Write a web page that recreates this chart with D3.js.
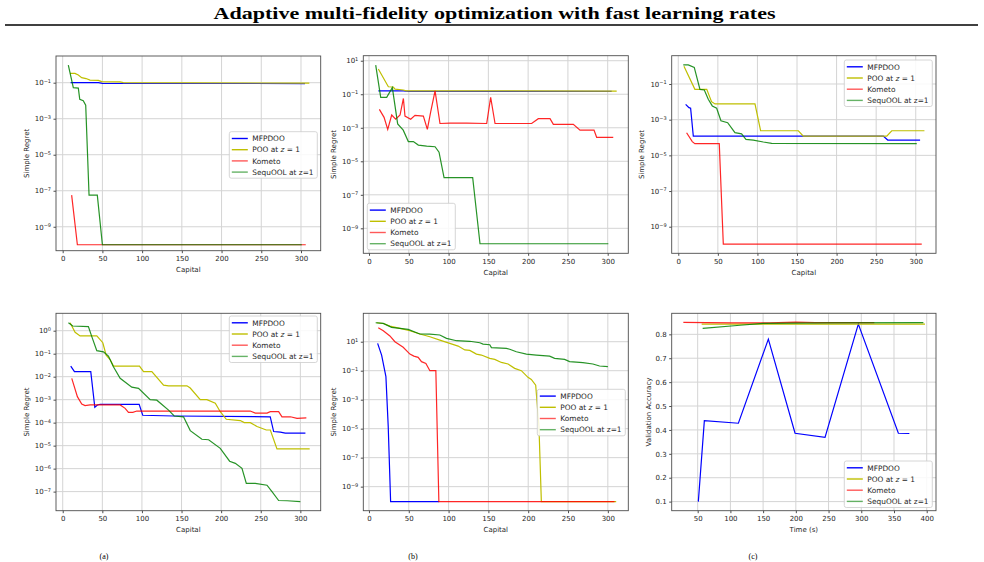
<!DOCTYPE html>
<html>
<head>
<meta charset="utf-8">
<script src="https://cdn.jsdelivr.net/npm/d3@7"></script>
<style>
  body { margin: 0; background: #fff; }
  svg text { font-family: "DejaVu Sans", sans-serif; fill: #262626; }
</style>
</head>
<body>
<svg id="fig" width="984" height="562"></svg>
<script>
    // legend names, same order in every panel
    var methods = ["MFPDOO", "POO", "Kometo", "SequOOL"];

    // (a) simple regret vs capital
    var aMfpdoo = [[10,0.1],[45,0.1],[50,0.092],[305,0.09]];
    var aPoo = [[9.2,0.33],[15.5,0.33],[19.7,0.27],[23.9,0.19],[29.4,0.17],[34.4,0.14],[44.9,0.135],[49.1,0.115],[72.2,0.11],[76.4,0.1],[310.5,0.095]];
    var aKometo = [[11.3,5.7e-8],[18.5,1e-10],[306,1e-10]];
    var aSequool = [[7.1,0.95],[13.4,0.053],[19.7,0.05],[21.5,0.012],[25.9,0.01],[29,0.0057],[33.2,5.7e-8],[43.6,5.7e-8],[50,1e-10],[301,1e-10]];

    // (b)
    var bMfpdoo = [[11.7,0.16],[43,0.16],[50,0.15],[305,0.15]];
    var bPoo = [[11.7,3.2],[24.3,0.28],[30.5,0.27],[32.7,0.2],[43,0.18],[47,0.16],[311.3,0.155]];
    var bKometo = [[13,0.0126],[18.9,0.0042],[23.5,0.0008],[28.5,0.0058],[33.5,0.0033],[39,0.0058],[43.2,0.056],[45.2,0.005],[52.4,0.0032],[57.8,0.0055],[68.3,0.005],[73.3,0.0008],[77.5,0.009],[83,0.16],[89.2,0.0018],[101.8,0.0019],[122.7,0.0019],[147.9,0.0018],[152.9,0.065],[158.4,0.0018],[204.4,0.0018],[212.8,0.0035],[227.5,0.0035],[231.7,0.0016],[256.8,0.0016],[265.2,0.00072],[282.8,0.00072],[286.1,0.00027],[307,0.00027]];
    var bSequool = [[8.4,5.5],[14.7,0.065],[22.2,0.065],[29.3,0.25],[36,0.0017],[43,0.00072],[49.4,0.00015],[55.7,0.00015],[62,9.3e-5],[72.5,8.1e-5],[83,7.4e-5],[88,3.5e-5],[94.3,1.05e-6],[130.3,1.05e-6],[139.5,1.2e-10],[300.8,1.2e-10]];

    // (c)
    var cMfpdoo = [[9.3,0.0072],[13.5,0.0047],[15.6,0.0044],[19,0.00012],[259,0.00012],[264.6,7.2e-5],[305.5,7.2e-5]];
    var cPoo = [[7.2,1.0],[21,0.05],[36,0.05],[42,0.0102],[46.4,0.0076],[96.9,0.0076],[104,0.00024],[151.7,0.00024],[158,0.00012],[263.4,0.00012],[269.7,0.00024],[311,0.00024]];
    var cKometo = [[10.5,1.86e-4],[17.7,5.9e-5],[21,4.5e-5],[51.8,4.5e-5],[56.9,1.07e-10],[307.6,1.07e-10]];
    var cSequool = [[6.3,1.17],[12.6,1.17],[20.2,0.86],[27.4,0.05],[32.9,0.046],[37.9,0.0138],[43,0.0059],[48.5,0.0044],[53.9,0.00087],[62.4,0.00068],[71.6,0.000186],[80,0.00016],[85.5,7.9e-5],[94.8,7.2e-5],[107.5,5.6e-5],[118,4.7e-5],[301.3,4.5e-5]];

    // (d)
    var dMfpdoo = [[10.1,0.029],[14.8,0.0165],[35.4,0.0165],[40.5,0.00047],[43.8,0.00059],[47.2,0.00063],[96.5,0.00063],[101,0.00021],[140,0.000195],[262,0.00018],[266.3,4.1e-5],[274.8,3.9e-5],[281,3.5e-5],[306.4,3.5e-5]];
    var dPoo = [[9.3,2.2],[15.6,0.85],[21.9,0.59],[43,0.59],[50.6,0.3],[54.8,0.087],[59.8,0.056],[64,0.029],[96.9,0.029],[102,0.0165],[112.5,0.0165],[127.3,0.0043],[133.6,0.004],[156.8,0.004],[161,0.0032],[173.6,0.001],[182,0.001],[192.6,0.0007],[198.9,0.0003],[206.5,0.00014],[224.2,0.000123],[229.2,0.0001],[236.8,0.0001],[245.3,6.8e-5],[257,4.8e-5],[262.1,4.8e-5],[270.5,7.2e-6],[311.8,7.2e-6]];
    var dKometo = [[11.4,0.0085],[18.5,0.00135],[24,0.00065],[28.2,0.00055],[34.6,0.00059],[72.5,0.00059],[78.8,0.00042],[83,0.00028],[88.5,0.00028],[93.5,0.00032],[236.8,0.00032],[243.1,0.00026],[257.9,0.00026],[262.1,0.0003],[272.6,0.0003],[276.8,0.00018],[287.4,0.00018],[295.8,0.000155],[307.6,0.00016]];
    var dSequool = [[7.2,2.2],[12.6,1.6],[32.4,1.5],[36.7,0.55],[43,0.135],[51.4,0.12],[57.7,0.079],[64,0.027],[72.5,0.0085],[87.2,0.0035],[95.7,0.0031],[110.4,0.001],[118.8,0.00095],[133.6,0.00035],[140.7,0.000195],[152.5,0.00018],[161,4.5e-5],[175.7,1.9e-5],[184.2,1.8e-5],[198.9,7.6e-6],[210.7,2.1e-6],[217.9,1.7e-6],[226.3,1.03e-6],[231.8,2.3e-7],[243.1,2.3e-7],[257.9,1.9e-7],[264.2,1e-7],[272.6,4.1e-8],[283.2,4e-8],[300,3.7e-8]];

    // (e)
    var eMfpdoo = [[10.9,7.7],[15.9,1.2],[21.3,0.039],[24.2,1.4e-5],[27.2,9.3e-11],[88.2,9.3e-11]];
    var ePoo = [[9.6,204],[18,180],[26.3,120],[38.9,83],[51.4,57],[63.9,34],[76.5,22],[89,13],[101.5,7.7],[112,5],[120.4,2.7],[126.6,2.5],[135,1.4],[141.2,1.2],[151.7,0.71],[158,0.6],[166.3,0.37],[174.7,0.29],[183,0.145],[191.4,0.1],[199.7,0.035],[203.9,0.025],[209.4,0.01],[213.5,1.4e-5],[216.5,9.3e-11],[310.5,9.3e-11]];
    var eKometo = [[11.7,93],[18,57],[26.3,25],[32.6,10],[43,4.1],[51.4,1.4],[56.4,1.02],[61.8,0.83],[66,0.42],[71.5,0.32],[76.5,0.1],[84,0.1],[87.8,9.3e-11],[308.4,9.3e-11]];
    var eSequool = [[8.4,204],[18,182],[28.4,97],[38.9,83],[49.3,71],[63.9,34],[76.5,33],[89,29],[97.4,17],[109.9,11.7],[126.6,10.7],[139.2,8.5],[143.3,6.8],[151.7,6.2],[153.8,3.9],[172.6,3.5],[176.8,3],[185.1,2.04],[197.7,1.4],[210.2,1.2],[226.9,1.0],[233.2,0.71],[245.7,0.6],[252,0.42],[268.7,0.36],[281.2,0.29],[289.6,0.21],[300,0.19]];

    // (f) validation accuracy vs time
    var fMfpdoo = [[51,0.1],[60.2,0.439],[112.2,0.428],[158,0.78],[198.8,0.386],[244.6,0.369],[295.5,0.843],[356.7,0.386],[373.5,0.385]];
    var fPoo = [[56.1,0.843],[397.4,0.843]];
    var fKometo = [[28.1,0.85],[100,0.848],[160,0.848],[200,0.851],[230,0.849],[320,0.849]];
    var fSequool = [[57.6,0.825],[114.7,0.838],[150,0.846],[250,0.848],[394.9,0.849]];

    var capitalTicks = [0, 50, 100, 150, 200, 250, 300];
    var timeTicks = [50, 100, 150, 200, 250, 300, 350, 400];
    var oddDecades = [1e1, 1e-1, 1e-3, 1e-5, 1e-7, 1e-9];
    var allDecades = [1, 1e-1, 1e-2, 1e-3, 1e-4, 1e-5, 1e-6, 1e-7];
    var accTicks = [0.1, 0.2, 0.3, 0.4, 0.5, 0.6, 0.7, 0.8];

    var colors = { MFPDOO: "#0000ff", POO: "#bfbf00", Kometo: "#ff0000", SequOOL: "#008000" };
    var lineAlpha = { MFPDOO: 1, POO: 1, Kometo: 0.85, SequOOL: 0.85 };
    var legendAlpha = { MFPDOO: 1, POO: 1, Kometo: 0.65, SequOOL: 0.6 };

    // layout of each panel (box = left, top, right, bottom in px)
    var panels = [
      { box: [56, 56, 320.7, 250.7], xd: [-8.4, 324.8], yd: [-10.33, 0.483], log: true,
        xt: capitalTicks, yt: oddDecades, xl: "Capital", yl: "Simple Regret", leg: [229.3, 131.7],
        data: [aMfpdoo, aPoo, aKometo, aSequool] },
      { box: [363.3, 55.7, 628.3, 253.3], xd: [-7.2, 325.9], yd: [-10.49, 1.3], log: true,
        xt: capitalTicks, yt: oddDecades, xl: "Capital", yl: "Simple Regret", leg: [367.3, 203.3],
        data: [bMfpdoo, bPoo, bKometo, bSequool] },
      { box: [671.7, 55.7, 936, 253.3], xd: [-8.3, 325.6], yd: [-10.49, 0.586], log: true,
        xt: capitalTicks, yt: oddDecades, xl: "Capital", yl: "Simple Regret", leg: [844.3, 60],
        data: [cMfpdoo, cPoo, cKometo, cSequool] },
      { box: [56, 313.3, 320.7, 510.7], xd: [-8.5, 325.7], yd: [-7.83, 0.757], log: true,
        xt: capitalTicks, yt: allDecades, xl: "Capital", yl: "Simple Regret", leg: [229.3, 316],
        data: [dMfpdoo, dPoo, dKometo, dSequool] },
      { box: [363.3, 313.3, 628.3, 510.7], xd: [-7.1, 325.7], yd: [-10.66, 2.96], log: true,
        xt: capitalTicks, yt: oddDecades, xl: "Capital", yl: "Simple Regret", leg: [537.3, 389.3],
        data: [eMfpdoo, ePoo, eKometo, eSequool] },
      { box: [671.7, 313.3, 936, 510.7], xd: [10.3, 414.2], yd: [0.062, 0.888], log: false,
        xt: timeTicks, yt: accTicks, xl: "Time (s)", yl: "Validation Accuracy", leg: [844.3, 461],
        data: [fMfpdoo, fPoo, fKometo, fSequool] }
    ];

    var svg = d3.select("#fig");

    // page header
    svg.append("text")
      .attr("x", 494.5).attr("y", 18.5)
      .attr("text-anchor", "middle")
      .attr("textLength", 562).attr("lengthAdjust", "spacingAndGlyphs")
      .style("font-family", "'Liberation Serif', serif")
      .style("font-weight", "bold").style("font-size", "17px").style("fill", "#000")
      .text("Adaptive multi-fidelity optimization with fast learning rates");
    svg.append("line")
      .attr("x1", 5).attr("x2", 978).attr("y1", 25).attr("y2", 25)
      .attr("stroke", "#000").attr("stroke-width", 1.3);

    panels.forEach(function(p) {
      var l = p.box[0], t = p.box[1], r = p.box[2], b = p.box[3];
      var x = d3.scaleLinear().domain(p.xd).range([l, r]);
      var y = p.log
        ? d3.scaleLog().domain([Math.pow(10, p.yd[0]), Math.pow(10, p.yd[1])]).range([b, t])
        : d3.scaleLinear().domain(p.yd).range([b, t]);
      var g = svg.append("g");

      // grid
      g.append("g").selectAll("line").data(p.xt).enter().append("line")
        .attr("x1", x).attr("x2", x).attr("y1", t).attr("y2", b)
        .attr("stroke", "#d4d4d4").attr("stroke-width", 1);
      g.append("g").selectAll("line").data(p.yt.filter(function(v) { return y(v) > t && y(v) < b; }))
        .enter().append("line")
        .attr("x1", l).attr("x2", r).attr("y1", y).attr("y2", y)
        .attr("stroke", "#d4d4d4").attr("stroke-width", 1);

      // series, in legend order
      var line = d3.line().x(function(d) { return x(d[0]); }).y(function(d) { return y(d[1]); });
      p.data.forEach(function(s, i) {
        g.append("path").datum(s)
          .attr("d", line)
          .attr("fill", "none")
          .attr("stroke", colors[methods[i]])
          .attr("stroke-opacity", lineAlpha[methods[i]])
          .attr("stroke-width", 1.2);
      });

      // frame
      g.append("rect").attr("x", l).attr("y", t).attr("width", r - l).attr("height", b - t)
        .attr("fill", "none").attr("stroke", "#4d4d4d").attr("stroke-width", 0.9);

      // axes
      var xa = g.append("g").attr("transform", "translate(0," + b + ")")
        .call(d3.axisBottom(x).tickValues(p.xt).tickSize(2.5).tickPadding(3).tickFormat(d3.format("d")));
      var ya = g.append("g").attr("transform", "translate(" + l + ",0)")
        .call(d3.axisLeft(y).tickValues(p.yt.filter(function(v) { return y(v) > t && y(v) < b; }))
          .tickSize(2.5).tickPadding(2.5));
      [xa, ya].forEach(function(a) {
        a.select(".domain").remove();
        a.selectAll(".tick line").attr("stroke", "#4d4d4d");
        a.selectAll(".tick text").style("font-size", "7px").style("font-family", "'DejaVu Sans', sans-serif").attr("fill", "#262626");
      });
      if (p.log) {
        ya.selectAll(".tick text").text(null).each(function(d) {
          var e = Math.round(Math.log10(d));
          var txt = d3.select(this);
          txt.append("tspan").text("10");
          txt.append("tspan").attr("dy", "-0.5em").style("font-size", "5px")
            .text(e < 0 ? "\u2212" + (-e) : String(e));
        });
      } else {
        ya.selectAll(".tick text").text(d3.format(".1f"));
      }

      // axis titles
      g.append("text")
        .attr("x", (l + r) / 2).attr("y", b + 21.5)
        .attr("text-anchor", "middle").style("font-size", "7px")
        .text(p.xl);
      var lx = p.log ? l - 27.5 : l - 20.8;
      g.append("text")
        .attr("transform", "translate(" + lx + "," + (t + b) / 2 + ") rotate(-90)")
        .attr("text-anchor", "middle").style("font-size", "7px")
        .text(p.yl);

      // legend
      var lg = g.append("g").attr("transform", "translate(" + p.leg[0] + "," + p.leg[1] + ")");
      lg.append("rect").attr("width", 88).attr("height", 46.5).attr("rx", 2)
        .attr("fill", "#fff").attr("fill-opacity", 0.85)
        .attr("stroke", "#cccccc").attr("stroke-width", 0.8);
      methods.forEach(function(m, i) {
        var yy = 6.8 + i * 11.2;
        lg.append("line").attr("x1", 2.5).attr("x2", 18.5).attr("y1", yy).attr("y2", yy)
          .attr("stroke", colors[m]).attr("stroke-opacity", legendAlpha[m]).attr("stroke-width", 1.4);
        var tx = lg.append("text").attr("x", 23).attr("y", yy + 2.7).style("font-size", "7.4px");
        if (m === "POO") {
          tx.append("tspan").text("POO at ");
          tx.append("tspan").style("font-style", "italic").text("z");
          tx.append("tspan").text(" = 1");
        } else if (m === "SequOOL") {
          tx.text("SequOOL at z=1");
        } else {
          tx.text(m);
        }
      });
    });

    // sub-figure captions along the bottom edge
    [["(a)", 104], ["(b)", 413], ["(c)", 753]].forEach(function(c) {
      svg.append("text").attr("x", c[1]).attr("y", 558.5)
        .attr("text-anchor", "middle")
        .style("font-family", "'Liberation Serif', serif").style("font-size", "8px").style("fill", "#000")
        .text(c[0]);
    });
</script>
</body>
</html>
